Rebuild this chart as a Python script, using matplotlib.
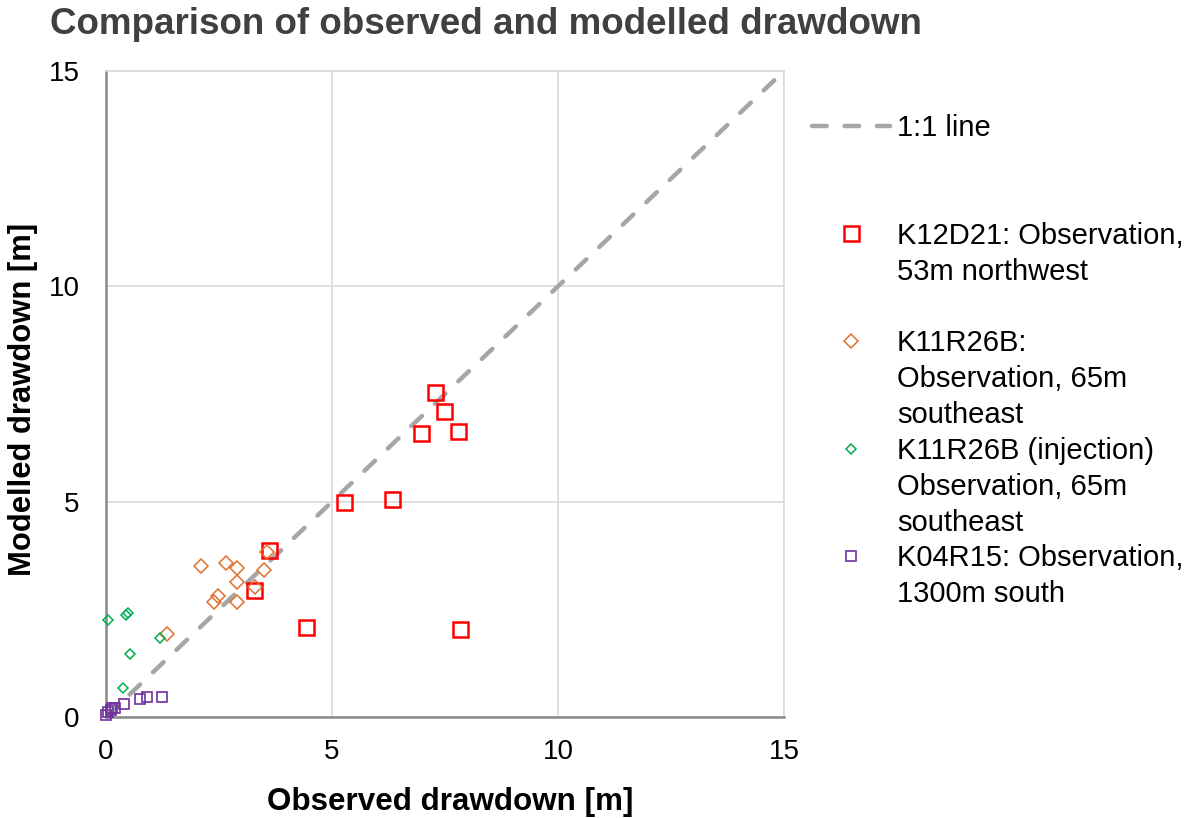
import numpy as np
import matplotlib
matplotlib.use("Agg")
import matplotlib.pyplot as plt
from matplotlib.lines import Line2D

plt.rcParams['font.family'] = ['Liberation Sans', 'DejaVu Sans']

# values
red_x = [3.60, 3.27, 4.42, 5.27, 6.33, 6.97, 7.28, 7.48, 7.79, 7.83]
red_y = [3.88, 2.95, 2.09, 4.99, 5.06, 6.59, 7.55, 7.10, 6.64, 2.04]

orange_x = [2.10, 2.65, 2.90, 3.50, 3.56, 2.90, 3.30, 2.48, 2.39, 2.90, 1.35]
orange_y = [3.51, 3.57, 3.45, 3.41, 3.82, 3.14, 3.03, 2.80, 2.67, 2.68, 1.93]

green_x = [0.04, 0.44, 0.49, 1.19, 0.53, 0.38]
green_y = [2.26, 2.36, 2.41, 1.84, 1.46, 0.67]

purple_x = [0.00, 0.05, 0.10, 0.13, 0.20, 0.40, 0.75, 0.91, 1.24]
purple_y = [0.05, 0.12, 0.16, 0.20, 0.22, 0.30, 0.41, 0.46, 0.46]

line_x = [0, 15]
line_y = [0, 15]
ticks = [0, 5, 10, 15]

fig = plt.figure(figsize=(11.91, 8.18), dpi=100)
ax = fig.add_axes([106/1191, 1-717/818, 678/1191, 646/818])

ax.set_xlim(0, 15)
ax.set_ylim(0, 15)
ax.set_xticks(ticks)
ax.set_yticks(ticks)
ax.grid(True, color='#d9d9d9', linewidth=1.2, zorder=0)
ax.set_axisbelow(True)
for s in ['top', 'right']:
    ax.spines[s].set_color('#d9d9d9')
    ax.spines[s].set_linewidth(1.2)
for s in ['left', 'bottom']:
    ax.spines[s].set_color('#898989')
    ax.spines[s].set_linewidth(1.8)
ax.tick_params(length=0, labelsize=20, colors='black')
ax.tick_params(axis='x', pad=16)
ax.tick_params(axis='y', pad=19)

line, = ax.plot(line_x, line_y, color='#a6a6a6', linewidth=3.2, linestyle=(0, (3.3, 4.0)),
                dash_capstyle='round', zorder=2)

red, = ax.plot(red_x, red_y, 's', markersize=10.8, markerfacecolor='none',
               markeredgecolor='#ff0000', markeredgewidth=1.8, clip_on=False, zorder=3)
orange, = ax.plot(orange_x, orange_y, 'D', markersize=7.1, markerfacecolor='none',
                  markeredgecolor='#e0702a', markeredgewidth=1.1, clip_on=False, zorder=3)
green, = ax.plot(green_x, green_y, 'D', markersize=4.6, markerfacecolor='none',
                 markeredgecolor='#00b050', markeredgewidth=1.1, clip_on=False, zorder=3)
purple, = ax.plot(purple_x, purple_y, 's', markersize=7.2, markerfacecolor='none',
                  markeredgecolor='#7030a0', markeredgewidth=1.2, clip_on=False, zorder=3)

ax.set_xlabel('Observed drawdown [m]', fontsize=22.6, fontweight='bold')
ax.set_ylabel('Modelled drawdown [m]', fontsize=22.3, fontweight='bold')
ax.xaxis.set_label_coords(0.507, -0.108)
ax.yaxis.set_label_coords(-0.1006, 0.492)

fig.text(50/1191, 1-25/818, 'Comparison of observed and modelled drawdown',
         fontsize=26.5, fontweight='bold', color='#404040', ha='left', va='center')

# legend rows, one per text line, blank handles for continuation lines
blank = Line2D([], [], linestyle='none')
handles = [line, blank, blank, red, blank, blank, orange, blank, blank,
           green, blank, blank, purple, blank]
labels = ['1:1 line', '', '',
          'K12D21: Observation,', '53m northwest', '',
          'K11R26B:', 'Observation, 65m', 'southeast',
          'K11R26B (injection)', 'Observation, 65m', 'southeast',
          'K04R15: Observation,', '1300m south']
fig.legend(handles, labels, loc='upper left', bbox_to_anchor=(812/1191, 1-114/818),
           frameon=False, fontsize=21, handlelength=2.67, handletextpad=0.24,
           labelspacing=0.27, borderpad=0, borderaxespad=0)

fig.savefig('out.png', dpi=100)
